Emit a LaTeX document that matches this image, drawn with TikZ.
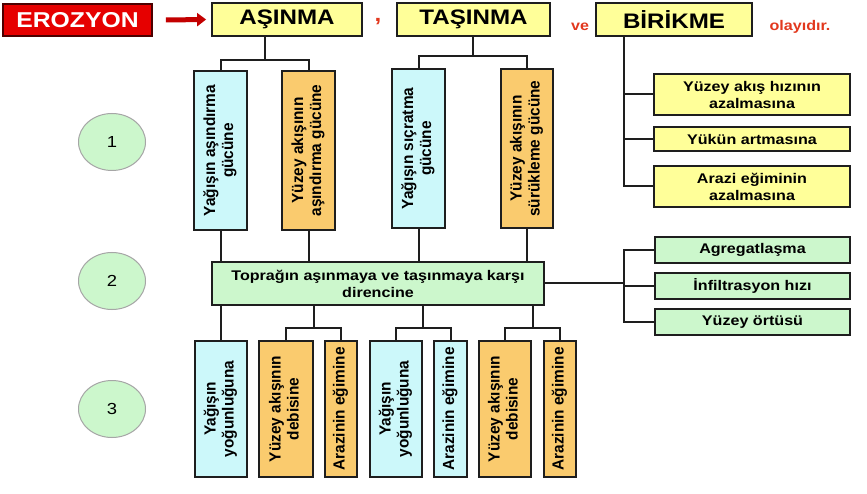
\documentclass[tikz,border=0pt]{standalone}
\usepackage{fontspec}
\usepackage{graphicx}
\setmainfont{Liberation Sans}
\newfontfamily\wf{Liberation Sans}[FakeStretch=1.15]
\usetikzlibrary{arrows.meta,calc,shapes.geometric}
\definecolor{yel}{HTML}{FFFF99}
\definecolor{blu}{HTML}{CCF8FA}
\definecolor{ora}{HTML}{FACB6E}
\definecolor{grn}{HTML}{CCF7CC}
\definecolor{redbox}{HTML}{E60000}
\definecolor{redtxt}{HTML}{E2381E}
\definecolor{edge}{HTML}{1E1E1E}
\newcommand{\vtx}[1]{\rotatebox{90}{\scalebox{1}[1.2]{\fontsize{13.4}{15}\selectfont\bfseries\begin{tabular}{@{}c@{}}#1\end{tabular}}}}
\tikzset{
  box/.style={draw=edge, line width=1.8pt, inner sep=0pt, align=center, font=\wf\bfseries\fontsize{14}{17}\selectfont},
  ybox/.style={box, fill=yel},
  bbox/.style={box, fill=blu},
  obox/.style={box, fill=ora},
  gbox/.style={box, fill=grn},
  conn/.style={draw=edge, line width=2pt},
  numell/.style={ellipse, draw=gray!70, line width=1pt, fill=grn, minimum width=67pt, minimum height=57pt, inner sep=0pt, font=\wf\fontsize{16}{18}\selectfont},
  redword/.style={text=redtxt, font=\wf\bfseries\fontsize{14}{16}\selectfont, inner sep=0pt}
}
\begin{document}
\begin{tikzpicture}[x=1pt,y=-1pt]
\useasboundingbox (0,0) rectangle (867,494);
\fill[white] (0,0) rectangle (867,494);
% top row
\node[box, fill=redbox, draw=black!70!red, text=white, minimum width=149pt, minimum height=32pt, font=\wf\bfseries\fontsize{21.5}{24}\selectfont] (ero) at (77.5,20) {EROZYON};
\node[ybox, minimum width=150pt, minimum height=33pt, font=\wf\bfseries\fontsize{21}{24}\selectfont] (asin) at (287,19.5) {AŞINMA};
\node[ybox, minimum width=153pt, minimum height=33pt, font=\wf\bfseries\fontsize{21}{24}\selectfont] (tasin) at (473.5,19.5) {TAŞINMA};
\node[ybox, minimum width=156pt, minimum height=33pt, font=\wf\bfseries\fontsize{21}{24}\selectfont] (birik) at (674,19.5) {BİRİKME};
\node[redword, font=\wf\bfseries\fontsize{21}{24}\selectfont] (comma) at (378,22) {,};
\node[redword] (ve) at (580,27) {ve};
\node[redword] (olay) at (800,27) {olayıdır.};
\draw[draw=redbox!85!black, line width=5pt, -{Triangle[length=9pt,width=13pt]}] (ero.east)++(13,0) coordinate (arrs) -- ($(asin.west)+(-5,0)$) coordinate (arre);
% level 1
\node[bbox, minimum width=53pt, minimum height=159pt] (a1) at (220.5,150.5) {\vtx{Yağışın aşındırma\\gücüne}};
\node[obox, minimum width=53pt, minimum height=159pt] (a2) at (308.5,150.5) {\vtx{Yüzey akışının\\aşındırma gücüne}};
\node[bbox, minimum width=53pt, minimum height=159pt] (b1) at (418.5,148.5) {\vtx{Yağışın sıçratma\\gücüne}};
\node[obox, minimum width=52pt, minimum height=159pt] (b2) at (527,148.5) {\vtx{Yüzey akışının\\sürükleme gücüne}};
% right of birikme
\node[ybox, minimum width=196pt, minimum height=41pt] (r1) at (752,94.5) {Yüzey akış hızının\\azalmasına};
\node[ybox, minimum width=196pt, minimum height=24pt] (r2) at (752,139) {Yükün artmasına};
\node[ybox, minimum width=196pt, minimum height=41pt] (r3) at (752,186.5) {Arazi eğiminin\\azalmasına};
% level 2
\node[gbox, minimum width=332pt, minimum height=43pt] (lev2) at (378,283.5) {Toprağın aşınmaya ve taşınmaya karşı\\direncine};
\node[gbox, minimum width=195pt, minimum height=26pt] (g1) at (752.5,250) {Agregatlaşma};
\node[gbox, minimum width=195pt, minimum height=26pt] (g2) at (752.5,286) {İnfiltrasyon hızı};
\node[gbox, minimum width=195pt, minimum height=26pt] (g3) at (752.5,322) {Yüzey örtüsü};
% level 3
\node[bbox, minimum width=52pt, minimum height=136pt] (c1) at (221,409) {\vtx{Yağışın\\yoğunluğuna}};
\node[obox, minimum width=54pt, minimum height=136pt] (c2) at (286,409) {\vtx{Yüzey akışının\\debisine}};
\node[obox, minimum width=32pt, minimum height=136pt] (c3) at (341,409) {\vtx{Arazinin eğimine}};
\node[bbox, minimum width=52pt, minimum height=136pt] (c4) at (396,409) {\vtx{Yağışın\\yoğunluğuna}};
\node[bbox, minimum width=33pt, minimum height=136pt] (c5) at (450.5,409) {\vtx{Arazinin eğimine}};
\node[obox, minimum width=52pt, minimum height=136pt] (c6) at (505,409) {\vtx{Yüzey akışının\\debisine}};
\node[obox, minimum width=32pt, minimum height=136pt] (c7) at (560,409) {\vtx{Arazinin eğimine}};
% number ellipses
\node[numell] (e1) at (112,142) {1};
\node[numell] (e2) at (112,281) {2};
\node[numell] (e3) at (112,409) {3};
% connectors: top to level 1
\coordinate (ja) at ($(a1.north)!0.5!(a2.north)$);
\draw[conn] (asin.south -| ja) -- ($(ja)+(0,-10)$) coordinate (jah);
\draw[conn] (a1.north) |- (jah) -| (a2.north);
\coordinate (jb) at ($(b1.north)!0.5!(b2.north)$);
\draw[conn] (tasin.south -| jb) -- ($(jb)+(0,-12)$) coordinate (jbh);
\draw[conn] (b1.north) |- (jbh) -| (b2.north);
% birikme branch
\coordinate (bj) at ($(birik.south west)+(29,0)$);
\draw[conn] (bj) |- (r3.west);
\draw[conn] (bj) |- (r1.west);
\draw[conn] (bj) |- (r2.west);
% level 1 to level 2
\foreach \n in {a1,a2,b1,b2}{\draw[conn] (\n.south) -- (\n.south |- lev2.north);}
% level 2 right branch
\coordinate (gj) at (lev2.east -| bj);
\draw[conn] (lev2.east) -- (gj) -- (gj |- g2.west) -- (g2.west);
\draw[conn] (g1.west) -| (gj) |- (g3.west);
% level 2 to level 3
\draw[conn] (c1.north) -- (c1.north |- lev2.south);
\foreach \p/\q in {c2/c3,c4/c5,c6/c7}{
  \coordinate (m) at ($(\p.north)!0.5!(\q.north)$);
  \draw[conn] (m |- lev2.south) -- ($(m)+(0,-12)$);
  \draw[conn] (\p.north) |- ($(m)+(0,-12)$) -| (\q.north);
}
\end{tikzpicture}
\end{document}
